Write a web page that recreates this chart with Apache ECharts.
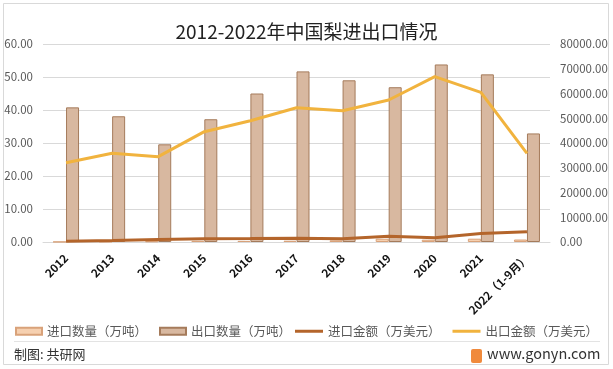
<!DOCTYPE html>
<html>
<head>
<meta charset="utf-8">
<script src="https://cdn.jsdelivr.net/npm/echarts@6/dist/echarts.min.js"></script>
<style>
html,body{margin:0;padding:0;background:#fff;}
#c{width:613px;height:369px;}
</style>
</head>
<body>
<div id="c"></div>
<script>
var categories = ['2012','2013','2014','2015','2016','2017','2018','2019','2020','2021','2022（1-9月）'];
var importQty = [0.05, 0.1, 0.2, 0.35, 0.35, 0.4, 0.5, 1.0, 0.7, 1.0, 0.75];
var exportQty = [40.8, 38.1, 29.6, 37.2, 45.0, 51.7, 49.0, 46.9, 53.8, 50.8, 32.9];
var importVal = [300, 600, 1000, 1300, 1400, 1550, 1300, 2350, 1700, 3400, 4100];
var exportVal = [32040, 35830, 34470, 44570, 49010, 54270, 53050, 57370, 66800, 60470, 35830];
var leftTicks = {min: 0, max: 60, interval: 10};
var rightTicks = {min: 0, max: 80000, interval: 10000};

var FONT = '"Noto Sans CJK SC", "Noto Sans", sans-serif';
var chart = echarts.init(document.getElementById('c'), null, {renderer: 'canvas'});
chart.setOption({
  animation: false,
  backgroundColor: '#fff',
  textStyle: {fontFamily: FONT},
  title: {
    text: '2012-2022年中国梨进出口情况',
    left: 'center', top: 17,
    textStyle: {fontSize: 19, fontWeight: 'normal', color: '#222', fontFamily: FONT}
  },
  grid: {left: 43, right: 63, top: 44, bottom: 127, containLabel: false},
  legend: [
    {
      top: 320, left: 10, itemGap: 12, itemWidth: 26, itemHeight: 7, icon: 'rect',
      textStyle: {fontSize: 12.5, color: '#595959', fontFamily: FONT},
      data: ['进口数量（万吨）', '出口数量（万吨）']
    },
    {
      top: 320, left: 290, itemGap: 12, itemWidth: 28, itemHeight: 3, icon: 'rect',
      textStyle: {fontSize: 12.5, color: '#595959', fontFamily: FONT},
      data: ['进口金额（万美元）', '出口金额（万美元）']
    }
  ],
  xAxis: {
    type: 'category', data: categories,
    axisLine: {show: true, lineStyle: {color: '#D9D9D9'}},
    axisTick: {show: false},
    axisLabel: {rotate: 45, interval: 0, margin: 14, fontSize: 11.5, fontWeight: 'bold', color: '#111', fontFamily: FONT}
  },
  yAxis: [
    {
      type: 'value', min: leftTicks.min, max: leftTicks.max, interval: leftTicks.interval,
      axisLine: {show: false}, axisTick: {show: false},
      splitLine: {lineStyle: {color: '#D9D9D9'}},
      axisLabel: {margin: 10, fontSize: 11.5, color: '#595959', formatter: function(v){return v.toFixed(2);}}
    },
    {
      type: 'value', min: rightTicks.min, max: rightTicks.max, interval: rightTicks.interval,
      axisLine: {show: false}, axisTick: {show: false},
      splitLine: {show: false},
      axisLabel: {margin: 10, fontSize: 11.5, color: '#595959', formatter: function(v){return v.toFixed(2);}}
    }
  ],
  series: [
    {
      name: '进口数量（万吨）', type: 'bar', yAxisIndex: 0, data: importQty,
      barWidth: 13, barGap: '0%',
      itemStyle: {color: '#F6D0B0', borderColor: '#D9A27A', borderWidth: 1}
    },
    {
      name: '出口数量（万吨）', type: 'bar', yAxisIndex: 0, data: exportQty,
      barWidth: 13, barGap: '0%',
      itemStyle: {color: '#D8B8A0', borderColor: '#A57B5B', borderWidth: 1}
    },
    {
      name: '进口金额（万美元）', type: 'line', yAxisIndex: 1, data: importVal,
      symbol: 'none', lineStyle: {width: 3, color: '#B4652B'}, itemStyle: {color: '#B4652B'}
    },
    {
      name: '出口金额（万美元）', type: 'line', yAxisIndex: 1, data: exportVal,
      symbol: 'none', lineStyle: {width: 3, color: '#F1B33E'}, itemStyle: {color: '#F1B33E'}
    }
  ],
  graphic: [
    {type: 'rect', shape: {x: 3.5, y: 3.5, width: 605, height: 361}, style: {fill: 'none', stroke: '#D9D9D9', lineWidth: 1}, z: -1},
    {type: 'line', shape: {x1: 14, y1: 341.5, x2: 600, y2: 341.5}, style: {stroke: '#E3E3E3', lineWidth: 1}},
    {type: 'text', left: 14, top: 348, style: {text: '制图: 共研网', fontSize: 13, fill: '#333', fontFamily: FONT}},
    {type: 'rect', shape: {x: 471, y: 349, width: 11, height: 14, r: 2}, style: {fill: '#F08A3C'}},
    {type: 'text', left: 487, top: 346, style: {text: 'www.gonyn.com', fontSize: 14.5, fill: '#333', fontFamily: FONT}}
  ]
});
</script>
</body>
</html>
